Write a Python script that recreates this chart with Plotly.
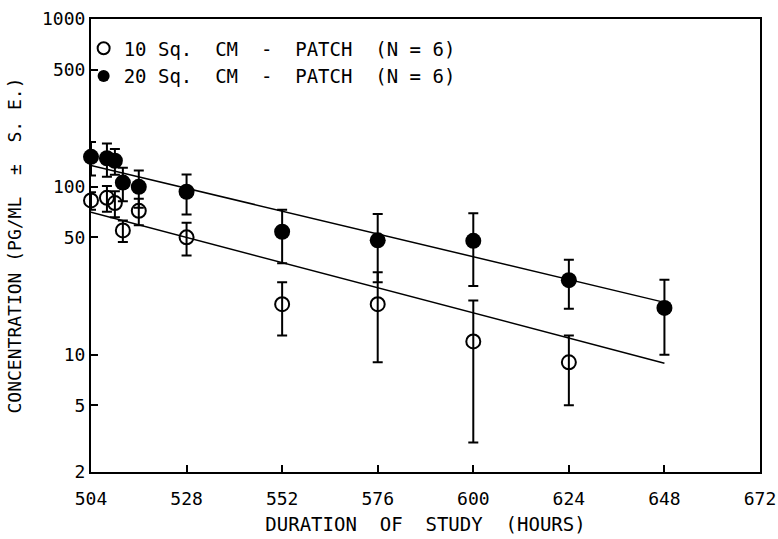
import plotly.graph_objects as go

# ---- data ----
hours_10 = [504, 508, 510, 512, 516, 528, 552, 576, 600, 624]
conc_10 = [83, 86, 80, 55, 72, 50, 20, 20, 12, 9]
se_10 = [10, 15, 14, 8, 13, 11, 7, 11, 9, 4]

hours_20 = [504, 508, 510, 512, 516, 528, 552, 576, 600, 624, 648]
conc_20 = [151, 148, 143, 106, 100, 93.5, 54, 48, 47.7, 27.8, 19]
se_20 = [34, 33, 25, 24, 25, 25, 19, 21, 22, 9, 9]

fit_hours = [504, 648]
fit_10 = [70.5, 8.9]
fit_20 = [134, 20.5]

x_ticks = [504, 528, 552, 576, 600, 624, 648, 672]
y_ticks = [2, 5, 10, 50, 100, 500, 1000]

FONT = "DejaVu Sans Mono"
NB = "\u00a0"
S2 = NB + NB

fig = go.Figure()

fig.add_trace(go.Scatter(x=fit_hours, y=fit_10, mode="lines",
                         line=dict(color="black", width=1.5), showlegend=False,
                         hoverinfo="skip"))
fig.add_trace(go.Scatter(x=fit_hours, y=fit_20, mode="lines",
                         line=dict(color="black", width=1.5), showlegend=False,
                         hoverinfo="skip"))

fig.add_trace(go.Scatter(
    x=hours_10, y=conc_10, mode="markers", cliponaxis=False,
    name=f"10 Sq.{S2}CM{S2}-{S2}PATCH{S2}(N = 6)",
    marker=dict(symbol="circle-open", size=14, color="black", line=dict(width=2)),
    error_y=dict(type="data", array=se_10, visible=True, color="black",
                 thickness=2, width=5),
))
fig.add_trace(go.Scatter(
    x=hours_20, y=conc_20, mode="markers", cliponaxis=False,
    name=f"20 Sq.{S2}CM{S2}-{S2}PATCH{S2}(N = 6)",
    marker=dict(symbol="circle", size=16, color="black"),
    error_y=dict(type="data", array=se_20, visible=True, color="black",
                 thickness=2, width=5),
))

fig.update_layout(
    width=778, height=539,
    margin=dict(l=91, r=18, t=19, b=67),
    paper_bgcolor="white", plot_bgcolor="white",
    font=dict(family=FONT, size=18, color="black"),
    showlegend=True,
    legend=dict(x=-0.011, y=0.977, xanchor="left", yanchor="top",
                bgcolor="rgba(0,0,0,0)", font=dict(family=FONT, size=19),
                itemsizing="constant", tracegroupgap=0),
)

fig.update_xaxes(
    range=[504, 672], tickmode="array", tickvals=x_ticks,
    ticktext=[str(v) for v in x_ticks], automargin=False,
    tickfont=dict(family=FONT, size=18), ticklabelstandoff=9,
    ticks="inside", ticklen=7, tickwidth=1.5, tickcolor="black",
    showline=True, linecolor="black", linewidth=2, mirror=True,
    showgrid=False, zeroline=False,
    title=dict(text=f"DURATION{S2}OF{S2}STUDY{S2}(HOURS)",
               font=dict(family=FONT, size=19), standoff=10),
)
fig.update_yaxes(
    type="log", range=[0.30103, 3], tickmode="array", tickvals=y_ticks,
    ticktext=[str(v) for v in y_ticks], automargin=False,
    tickfont=dict(family=FONT, size=18),
    ticks="inside", ticklen=7, tickwidth=1.5, tickcolor="black",
    showline=True, linecolor="black", linewidth=2, mirror=True,
    showgrid=False, zeroline=False,
    title=dict(text=f"CONCENTRATION (PG/ML{S2}±{S2}S. E.)",
               font=dict(family=FONT, size=18), standoff=16),
)

fig.write_html("out.html", config={"displayModeBar": False},
               post_script="document.body.style.margin='0';document.body.style.overflow='hidden';")
